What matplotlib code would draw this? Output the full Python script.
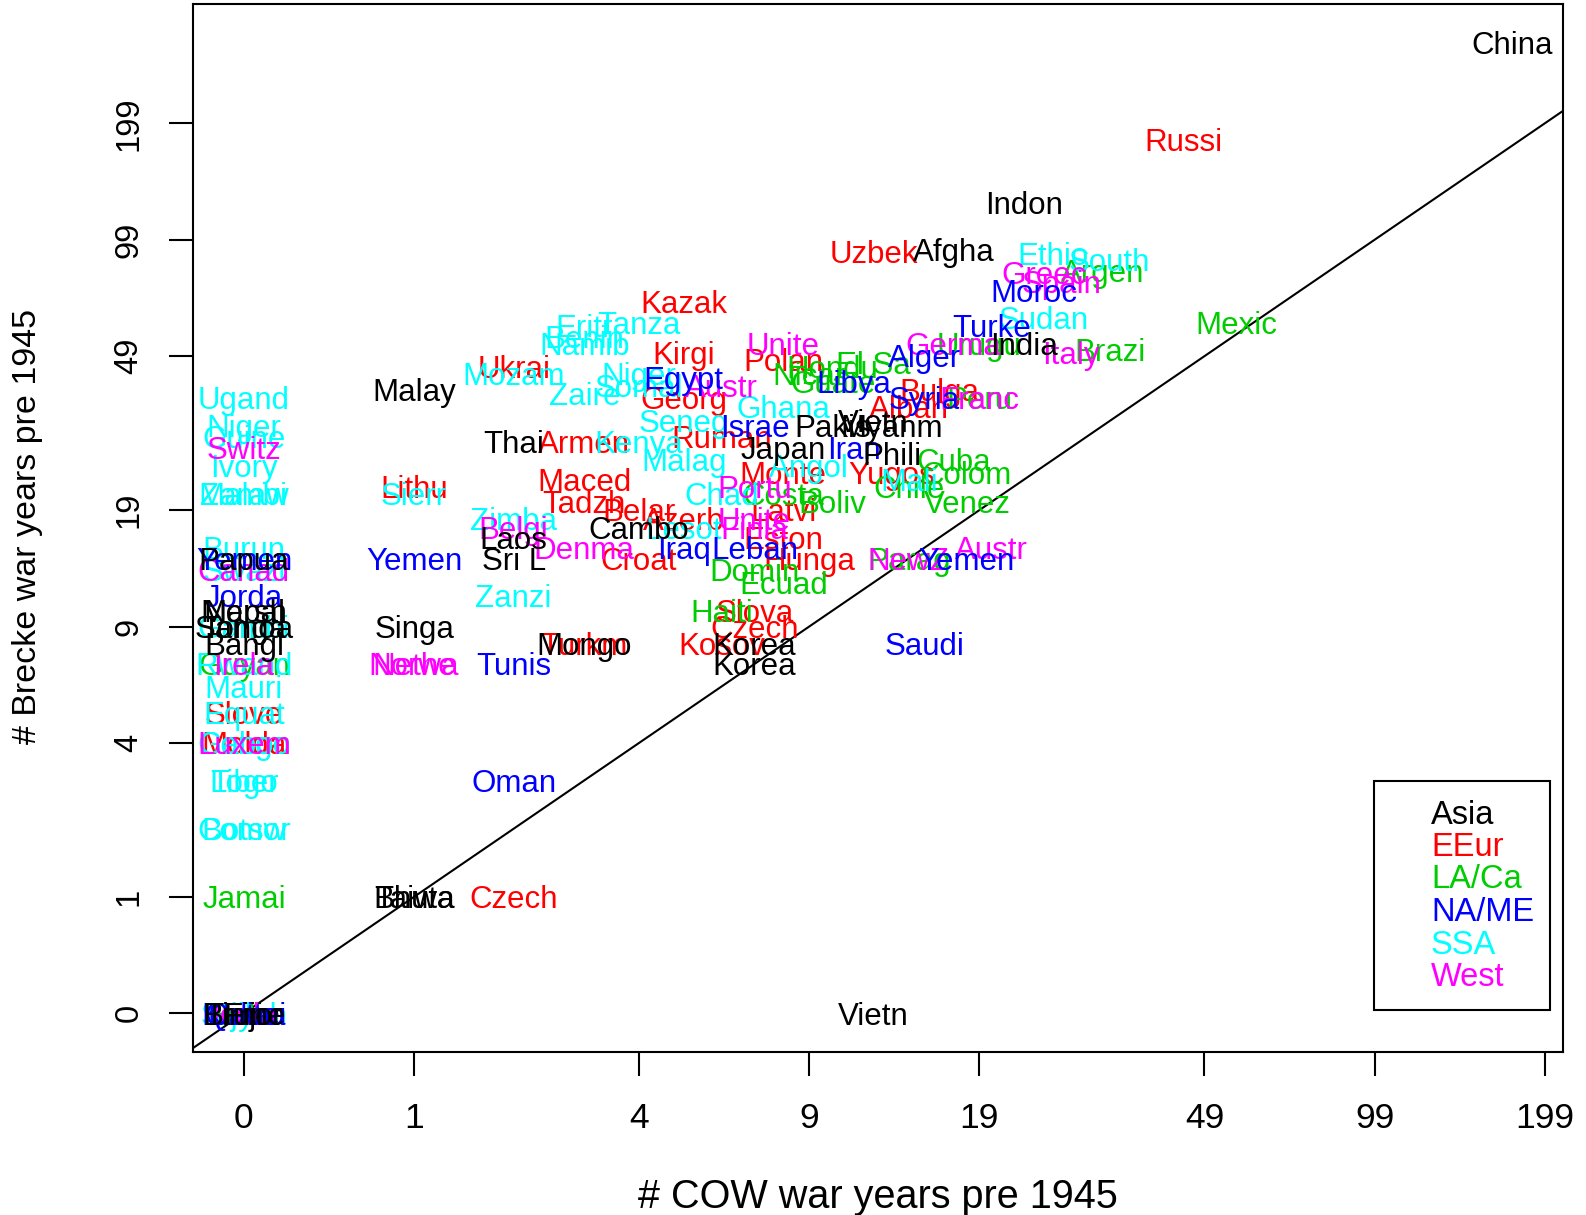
import numpy as np
import matplotlib
matplotlib.use("Agg")
import matplotlib.pyplot as plt

plt.rcParams["font.family"] = ["Liberation Sans", "DejaVu Sans"]

# region names and the old R palette used for them
regions = ["Asia", "EEur", "LA/Ca", "NA/ME", "SSA", "West"]
region_colors = ["black", "red", "#00CD00", "blue", "cyan", "magenta"]

# country label, COW war years, Brecke war years (both pre 1945), per region
asia_names = ["China", "Indon", "Afgha", "India", "Malay", "Thai", "Vietn", "Myanm",
              "Pakis", "Japan", "Phili", "Laos", "Sri L", "Cambo", "Mongo", "Korea",
              "Korea", "Singa", "Bangl", "Papua", "Nepal", "Marsh", "Tonga", "Samoa",
              "Bhuta", "Taiwa", "Vietn", "Brune", "Fiji", "Timor"]
asia_cow = [174, 23, 17, 23, 1, 2, 12, 13, 10, 8, 13, 2, 2, 4, 3, 7, 7, 1, 0, 0, 0, 0,
            0, 0, 1, 1, 12, 0, 0, 0]
asia_brecke = [322, 124, 93, 53, 40, 29, 33, 32, 32, 28, 27, 16, 14, 17, 8, 8, 7, 9, 8,
               14, 10, 10, 9, 9, 1, 1, 0, 0, 0, 0]

eeur_names = ["Russi", "Uzbek", "Kazak", "Kirgi", "Ukrai", "Georg", "Armen", "Ruman",
              "Maced", "Tadzh", "Belar", "Azerb", "Croat", "Lithu", "Polan", "Monte",
              "Latvi", "Eston", "Hunga", "Slova", "Czech", "Kosov", "Alban", "Bulga",
              "Yugos", "Czech", "Turkm", "Slove", "Molda"]
eeur_cow = [45, 12, 5, 5, 2, 5, 3, 6, 3, 3, 4, 5, 4, 1, 8, 8, 8, 8, 9, 7, 7, 6, 14, 16,
            13, 2, 3, 0, 0]
eeur_brecke = [180, 92, 68, 50, 46, 38, 29, 30, 23, 20, 19, 18, 14, 22, 48, 24, 19, 16,
               14, 10, 9, 8, 36, 40, 24, 1, 8, 5, 4]

laca_names = ["Mexic", "Brazi", "Argen", "Urugu", "Peru", "Cuba", "Colom", "Chile",
              "Venez", "Boliv", "Costa", "Domin", "Ecuad", "Haiti", "Parag", "Nicar",
              "Hondu", "El Sa", "Guate", "Jamai", "Guyan", "Surin", "Beliz"]
laca_cow = [56, 33, 32, 19, 19, 17, 18, 14, 18, 10, 8, 7, 8, 6, 14, 9, 10, 12, 10, 0, 0,
            0, 0]
laca_brecke = [60, 51, 82, 53, 38, 26, 24, 22, 20, 20, 21, 13, 12, 10, 14, 44, 46, 47,
               42, 1, 7, 0, 0]

name_names = ["Moroc", "Turke", "Alger", "Syria", "Libya", "Egypt", "Israe", "Iran",
              "Iraq", "Leban", "Yemen", "Saudi", "Yemen", "Tunis", "Oman", "Jorda",
              "Yemen", "Qatar", "Bahra", "Kuwai", "Unite"]
name_cow = [24, 20, 15, 15, 11, 5, 7, 11, 5, 7, 18, 15, 1, 2, 2, 0, 0, 0, 0, 0, 0]
name_brecke = [73, 59, 49, 38, 42, 43, 32, 28, 15, 15, 14, 8, 14, 7, 3, 11, 14, 0, 0,
               0, 0]

ssa_names = ["Ethio", "South", "Sudan", "Tanza", "Eritr", "Benin", "Namib", "Mozam",
             "Zaire", "Niger", "Somal", "Seneg", "Kenya", "Malag", "Ghana", "Angol",
             "Chad", "Mali", "Lesot", "Zimba", "Zanzi", "Sierr", "Ugand", "Niger",
             "Guine", "Ivory", "Malaw", "Zambi", "Burun", "Swazi", "Gambi", "Rwand",
             "Mauri", "Equat", "Congo", "Gabon", "Togo", "Liber", "Botsw", "Comor",
             "Djibo", "Seych"]
ssa_cow = [26, 33, 25, 4, 3, 3, 3, 2, 3, 4, 4, 5, 4, 5, 8, 9, 6, 14, 5, 2, 2, 1, 0, 0,
           0, 0, 0, 0, 0, 0, 0, 0, 0, 0, 0, 0, 0, 0, 0, 0, 0, 0]
ssa_brecke = [91, 88, 62, 60, 59, 55, 53, 44, 39, 44, 41, 33, 29, 26, 36, 25, 21, 23,
              17, 18, 11, 21, 38, 32, 30, 25, 21, 21, 15, 13, 9, 7, 6, 5, 4, 4, 3, 3,
              2, 2, 0, 0]

west_names = ["Greec", "Spain", "Italy", "Germa", "Franc", "Unite", "Austr", "Portu",
              "Unite", "Finla", "Denma", "Belgi", "NewZ", "Austr", "Switz", "Canad",
              "Irela", "Luxem", "Nethe", "Norwa", "Icela"]
west_cow = [25, 27, 28, 17, 19, 8, 6, 7, 7, 7, 3, 2, 14, 20, 0, 0, 0, 0, 1, 1, 0]
west_brecke = [81, 77, 50, 53, 38, 53, 41, 22, 18, 17, 15, 17, 14, 15, 28, 13, 7, 4, 7,
               7, 0]

groups = {
    "Asia": (asia_names, asia_cow, asia_brecke),
    "EEur": (eeur_names, eeur_cow, eeur_brecke),
    "LA/Ca": (laca_names, laca_cow, laca_brecke),
    "NA/ME": (name_names, name_cow, name_brecke),
    "SSA": (ssa_names, ssa_cow, ssa_brecke),
    "West": (west_names, west_cow, west_brecke),
}
color_of = dict(zip(regions, region_colors))

# order in which the labels get painted (later ones end up on top)
draw_order = ["EEur", "LA/Ca", "SSA", "West", "NA/ME", "Asia"]

tick_vals = [0, 1, 4, 9, 19, 49, 99, 199]

fig = plt.figure(figsize=(15.86, 12.15), dpi=100)
ax = fig.add_axes([0.1218, 0.1341, 0.9853 - 0.1218, 0.99667 - 0.1341])

label_size = 22.5
# R centres text on the cap height, so shift the baseline down by half of it
drop = -0.36 * label_size

all_x = []
all_y = []
for reg in draw_order:
    names, cow, brecke = groups[reg]
    xs = np.log1p(cow)
    ys = np.log1p(brecke)
    all_x.extend(xs)
    all_y.extend(ys)
    for name, x, y in zip(names, xs, ys):
        ax.annotate(name, (x, y), xytext=(0, drop), textcoords="offset points",
                    ha="center", va="baseline", color=color_of[reg],
                    fontsize=label_size)

# R style 4% padding on each side
xr = max(all_x) - min(all_x)
yr = max(all_y) - min(all_y)
ax.set_xlim(min(all_x) - 0.04 * xr, max(all_x) + 0.04 * xr)
ax.set_ylim(min(all_y) - 0.04 * yr, max(all_y) + 0.04 * yr)

ax.axline((0, 0), slope=1, color="black", lw=1.5)

ax.set_xticks(np.log1p(tick_vals))
ax.set_xticklabels([str(v) for v in tick_vals])
ax.set_yticks(np.log1p(tick_vals))
ax.set_yticklabels([str(v) for v in tick_vals], rotation=90, va="center")
ax.tick_params(axis="x", length=17, width=1.5, pad=19, labelsize=25.5)
ax.tick_params(axis="y", length=17, width=1.5, pad=18, labelsize=23.5)
for sp in ax.spines.values():
    sp.set_linewidth(1.5)

fig.text(878 / 1586, 1 - 1197 / 1215, "# COW war years pre 1945",
         ha="center", va="center", fontsize=28.5)
fig.text(28 / 1586, 1 - 526 / 1215, "# Brecke war years pre 1945",
         ha="center", va="center", rotation=90, fontsize=24.5)

# legend box drawn the R way: no symbols, coloured text
box = plt.Rectangle((1374 / 1586, 1 - 1010 / 1215), 176 / 1586, 229 / 1215,
                    transform=fig.transFigure, fill=False, lw=1.5, edgecolor="black")
fig.patches.append(box)
for i, (reg, col) in enumerate(zip(regions, region_colors)):
    fig.text(1431 / 1586, 1 - (815 + i * 32.5) / 1215, reg, color=col,
             ha="left", va="center", fontsize=23.5)

fig.savefig("out.png", dpi=100)
